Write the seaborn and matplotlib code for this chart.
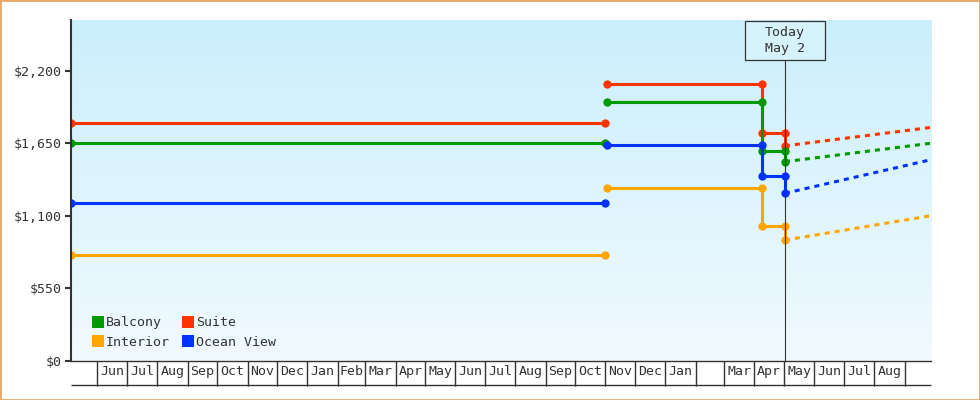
import numpy as np
import pandas as pd
import matplotlib
matplotlib.use("Agg")
import matplotlib.pyplot as plt
from matplotlib.lines import Line2D
from matplotlib.patches import Rectangle
from matplotlib.transforms import blended_transform_factory
import seaborn as sns

# cabin categories and colours
cabins = ["Suite", "Balcony", "Ocean View", "Interior"]
cabin_colors = ["#FF3300", "#009900", "#0033FF", "#FFA500"]

# first sailing price (flat)
old_dates = ["2022-05-05", "2023-11-01"]
suite_old = [1800, 1800]
balcony_old = [1650, 1650]
oceanview_old = [1200, 1200]
interior_old = [800, 800]

# second price period with the April drop and today's price
new_dates = ["2023-11-03", "2024-04-09", "2024-04-09", "2024-05-02", "2024-05-02"]
suite_new = [2100, 2100, 1725, 1725, 1630]
balcony_new = [1960, 1960, 1590, 1590, 1510]
oceanview_new = [1635, 1635, 1405, 1405, 1270]
interior_new = [1310, 1310, 1020, 1020, 915]

# projection after today
proj_dates = ["2024-05-02", "2024-09-28"]
suite_proj = [1630, 1770]
balcony_proj = [1510, 1650]
oceanview_proj = [1270, 1525]
interior_proj = [915, 1100]

today = "2024-05-02"
today_label = "Today\nMay 2"

yticks = [0, 550, 1100, 1650, 2200]
ytick_labels = ["$0", "$550", "$1,100", "$1,650", "$2,200"]

month_starts = pd.date_range("2022-06-01", "2024-09-01", freq="MS")
month_labels = ["Jun", "Jul", "Aug", "Sep", "Oct", "Nov", "Dec", "Jan", "Feb",
                "Mar", "Apr", "May", "Jun", "Jul", "Aug", "Sep", "Oct", "Nov",
                "Dec", "Jan", "", "Mar", "Apr", "May", "Jun", "Jul", "Aug"]

x_start, x_end = "2022-05-05", "2024-09-28"
y_max = 2585

# build long tables
old_vals = [suite_old, balcony_old, oceanview_old, interior_old]
new_vals = [suite_new, balcony_new, oceanview_new, interior_new]
proj_vals = [suite_proj, balcony_proj, oceanview_proj, interior_proj]

rows = []
for cab, ov, nv in zip(cabins, old_vals, new_vals):
    for d, p in zip(old_dates, ov):
        rows.append((cab, "old", pd.Timestamp(d), p))
    for d, p in zip(new_dates, nv):
        rows.append((cab, "new", pd.Timestamp(d), p))
hist = pd.DataFrame(rows, columns=["cabin", "segment", "date", "price"])

rows = []
for cab, pv in zip(cabins, proj_vals):
    for d, p in zip(proj_dates, pv):
        rows.append((cab, pd.Timestamp(d), p))
proj = pd.DataFrame(rows, columns=["cabin", "date", "price"])

sns.set_style("white")
plt.rcParams["font.family"] = ["DejaVu Sans Mono"]
plt.rcParams["font.size"] = 9.5
dark = "#333333"

W, H = 980, 400
fig = plt.figure(figsize=(W / 100, H / 100), dpi=100)
fig.patch.set_facecolor("white")
ax_l, ax_r, ax_t, ax_b = 71, 931, 20, 360.7
ax = fig.add_axes([ax_l / W, (H - ax_b) / H, (ax_r - ax_l) / W, (ax_b - ax_t) / H])

pal = dict(zip(cabins, cabin_colors))

sns.lineplot(data=hist, x="date", y="price", hue="cabin", units="segment",
             estimator=None, sort=False, palette=pal, hue_order=cabins,
             marker="o", markersize=6, markeredgewidth=0, linewidth=2.2,
             legend=False, ax=ax)
n_before = len(ax.lines)
sns.lineplot(data=proj, x="date", y="price", hue="cabin",
             estimator=None, sort=False, palette=pal, hue_order=cabins,
             linewidth=2.2, legend=False, ax=ax)
for ln in ax.lines[n_before:]:
    ln.set_dashes([1.65, 1.65])

# gradient background
top = np.array([203, 239, 252]) / 255
bot = np.array([241, 250, 255]) / 255
t = np.linspace(0, 1, 256).reshape(-1, 1, 1)
grad = top * (1 - t) + bot * t
ax.imshow(grad, extent=[0, 1, 0, 1], transform=ax.transAxes, aspect="auto",
          zorder=0, interpolation="bilinear")

ax.set_xlim(pd.Timestamp(x_start), pd.Timestamp(x_end))
ax.set_ylim(0, y_max)

# today marker
axh = ax_b - ax_t
box_bottom = (ax_b - 60.3) / axh
ax.axvline(pd.Timestamp(today), ymin=0, ymax=box_bottom, color=dark, lw=0.8, zorder=3)
trans = blended_transform_factory(ax.transData, ax.transAxes)
box_w = pd.Timedelta(days=81.5)
ax.add_patch(Rectangle((pd.Timestamp(today) - box_w / 2, box_bottom), box_w,
                       (60.3 - 20.5) / axh, transform=trans, facecolor="#D6F2FB",
                       edgecolor=dark, lw=0.9, zorder=4, clip_on=False))
ax.text(pd.Timestamp(today), (ax_b - 40.5) / axh, today_label, transform=trans,
        ha="center", va="center", color=dark, linespacing=1.35, zorder=5)

# y axis
ax.set_yticks(yticks)
ax.set_yticklabels(ytick_labels)
ax.tick_params(axis="y", direction="out", length=4, width=1.5, color=dark,
               labelcolor=dark, pad=2.5, left=True)
ax.set_xlabel("")
ax.set_ylabel("")

# month strip
mids = [month_starts[i] + (month_starts[i + 1] - month_starts[i]) / 2
        for i in range(len(month_starts) - 1)]
ax.set_xticks(month_starts)
ax.set_xticklabels([""] * len(month_starts))
ax.set_xticks(mids, minor=True)
ax.set_xticklabels(month_labels, minor=True)
ax.tick_params(axis="x", which="major", direction="out", length=17.7, width=1.0,
               color=dark, bottom=True)
ax.tick_params(axis="x", which="minor", length=0, pad=3.2, labelcolor=dark)
strip_h = (385.3 - ax_b) / axh
ax.plot([0, 1], [-strip_h, -strip_h], transform=ax.transAxes, color=dark,
        lw=1.0, clip_on=False, solid_capstyle="butt")

for s in ["top", "right"]:
    ax.spines[s].set_visible(False)
ax.spines["left"].set_color(dark)
ax.spines["left"].set_linewidth(1.5)
ax.spines["bottom"].set_color(dark)
ax.spines["bottom"].set_linewidth(1.0)
ax.grid(False)

# legend
order = ["Balcony", "Interior", "Suite", "Ocean View"]
handles = [Line2D([], [], marker="s", ls="", ms=8, markeredgewidth=0,
                  color=pal[c]) for c in order]
ax.legend(handles, order, ncol=2, loc="lower left", frameon=False,
          bbox_to_anchor=(0.024, 0.035), borderaxespad=0, borderpad=0,
          handlelength=0.9, handletextpad=0.15, columnspacing=0.95,
          labelspacing=0.5, labelcolor=dark)

# outer border
fig.patches.append(Rectangle((0, 0), 1, 1, transform=fig.transFigure,
                             fill=False, edgecolor="#E8A96A", lw=2.0))

fig.savefig("out.png", dpi=100)
